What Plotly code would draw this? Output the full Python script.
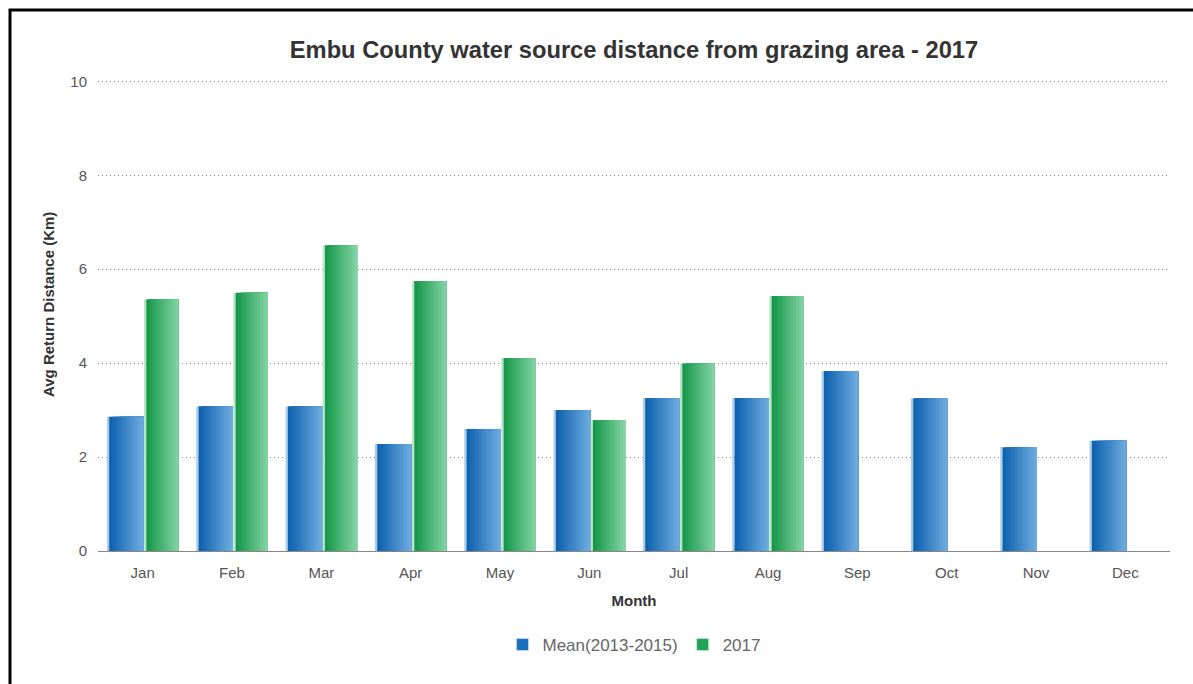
import plotly.graph_objects as go

months = ["Jan", "Feb", "Mar", "Apr", "May", "Jun", "Jul", "Aug", "Sep", "Oct", "Nov", "Dec"]
mean_2013_2015 = [2.86, 3.08, 3.08, 2.28, 2.60, 3.00, 3.26, 3.26, 3.83, 3.25, 2.21, 2.35]
y2017 = [5.36, 5.50, 6.51, 5.75, 4.11, 2.79, 3.99, 5.43, None, None, None, None]

W, H = 1193, 684
L, R, T, B = 98, 23, 79, 133
PH = H - T - B
PW = W - L - R


def lerp(c1, c2, t):
    return "rgb(%d,%d,%d)" % tuple(round(a + (b - a) * t) for a, b in zip(c1, c2))


def add_series(fig, name, values, x_start, x_end, strip_color, dark, light, legend_color):
    # pale highlight strip on left edge
    fig.add_trace(go.Bar(x=months, y=values, offset=x_start, width=0.025,
                         marker=dict(color=strip_color, line=dict(width=0)),
                         showlegend=False, hoverinfo="skip", legendgroup=name))
    n = 12
    body_start = x_start + 0.025
    step = (x_end - body_start) / n
    for i in range(n):
        t = i / (n - 1)
        off = body_start + i * step
        fig.add_trace(go.Bar(x=months, y=values, offset=off, width=x_end - off,
                             marker=dict(color=lerp(dark, light, t), line=dict(width=0)),
                             showlegend=False, hoverinfo="skip", legendgroup=name))
    # hover carrier
    fig.add_trace(go.Bar(x=months, y=values, offset=x_start, width=x_end - x_start,
                         marker=dict(color="rgba(0,0,0,0)", line=dict(width=0)),
                         name=name, legendgroup=name, showlegend=False))
    # legend entry
    fig.add_trace(go.Bar(x=[None], y=[None], name=name, legendgroup=name,
                         marker=dict(color=legend_color), showlegend=True))


fig = go.Figure()
add_series(fig, "Mean(2013-2015)", mean_2013_2015, -0.40, 0.01,
           "rgb(170,204,232)", (14, 98, 176), (108, 170, 222), "#1c6fbf")
add_series(fig, "2017", y2017, 0.015, 0.40,
           "rgb(185,228,200)", (22, 152, 74), (128, 210, 162), "#22a457")

fig.update_layout(
    width=W, height=H,
    margin=dict(l=L, r=R, t=T, b=B),
    barmode="overlay",
    plot_bgcolor="white", paper_bgcolor="white",
    font=dict(family="Liberation Sans, Arial, sans-serif", color="#555555", size=15),
    title=dict(text="<b>Embu County water source distance from grazing area - 2017</b>",
               x=634 / W, xanchor="center", y=1 - 50 / H, yanchor="middle",
               font=dict(size=23.7, color="#333333")),
    legend=dict(orientation="h", x=0.5, xanchor="center", y=(551 - 645) / PH, yanchor="middle",
                font=dict(size=17, color="#666666"), traceorder="normal"),
    showlegend=True,
    annotations=[dict(text="<b>Avg Return Distance (Km)</b>", textangle=-90,
                      xref="paper", yref="paper", x=(48 - L) / PW, y=(551 - 305) / PH,
                      xanchor="center", yanchor="middle", showarrow=False,
                      font=dict(size=15, color="#333333"))],
    shapes=[dict(type="rect", xref="paper", yref="paper",
                 x0=(10 - L) / PW, x1=1.2,
                 y0=-0.6, y1=1 + (T - 10) / PH,
                 line=dict(color="black", width=3), fillcolor="rgba(0,0,0,0)", layer="above")],
)

fig.update_xaxes(
    type="category", showgrid=False, showline=True, linecolor="#8e8582", linewidth=1,
    ticks="", tickfont=dict(size=15, color="#555555"), ticklabelstandoff=8,
    title=dict(text="<b>Month</b>", font=dict(size=15, color="#333333"), standoff=15),
)
fig.update_yaxes(
    range=[0, 10.05], tickvals=[0, 2, 4, 6, 8, 10], showgrid=True, gridcolor="#8a8a8a",
    griddash="1px,3px", gridwidth=1, zeroline=False, showline=False, ticks="",
    tickfont=dict(size=15, color="#555555"), ticklabelstandoff=10,
)

fig.write_html("out.html")
